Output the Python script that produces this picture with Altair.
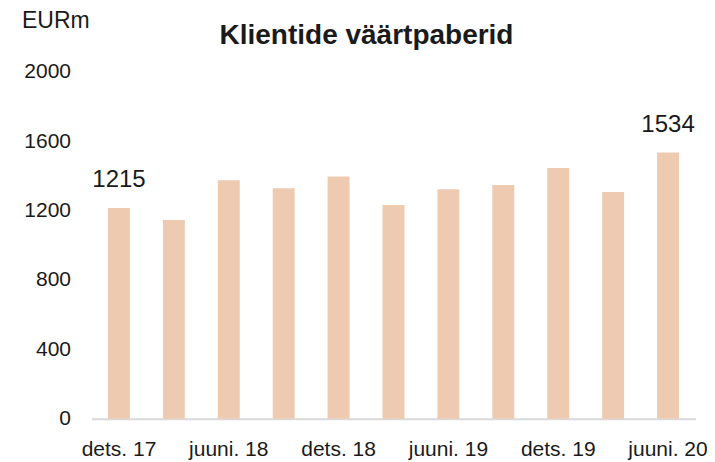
import altair as alt
import pandas as pd

periods = ["dets. 17", "märts 18", "juuni. 18", "sept. 18", "dets. 18", "märts 19",
           "juuni. 19", "sept. 19", "dets. 19", "märts 20", "juuni. 20"]
values = [1215, 1145, 1375, 1328, 1396, 1231, 1322, 1347, 1445, 1306, 1534]
shown_labels = ["1215", "", "", "", "", "", "", "", "", "", "1534"]
axis_ticks = ["dets. 17", "juuni. 18", "dets. 18", "juuni. 19", "dets. 19", "juuni. 20"]
y_ticks = [0, 400, 800, 1200, 1600, 2000]

df = pd.DataFrame({"period": periods, "value": values, "label": shown_labels})

FONT = "Liberation Sans"
TXT = "#1a1a1a"
BAR = "#EECAB1"

x = alt.X("period:N", sort=periods, title=None,
          scale=alt.Scale(paddingInner=0.6, paddingOuter=0.3),
          axis=alt.Axis(values=axis_ticks, labelAngle=0, ticks=False, tickSize=0,
                        labelPadding=20, labelFontSize=21, labelFont=FONT,
                        labelColor=TXT, domainColor="#d9d9d9", domainWidth=2,
                        grid=False, labelOverlap=False))
y = alt.Y("value:Q", title="EURm",
          scale=alt.Scale(domain=[0, 2000], nice=False),
          axis=alt.Axis(values=y_ticks, format="d", ticks=False, tickSize=0, domain=False,
                        grid=False, labelPadding=21, labelFontSize=21,
                        labelFont=FONT, labelColor=TXT,
                        titleAngle=0, titleAlign="left", titleBaseline="alphabetic",
                        titleX=-70, titleY=-44, titleFont=FONT, titleFontSize=23,
                        titleFontWeight="normal", titleColor=TXT))

bars = alt.Chart(df).mark_bar(color=BAR).encode(x=x, y=y)

labels = alt.Chart(df).transform_filter(alt.datum.label != "").mark_text(
    font=FONT, fontSize=24, color=TXT, baseline="alphabetic", dy=-21
).encode(x=alt.X("period:N", sort=periods), y="value:Q", text="label:N")

chart = alt.layer(bars, labels).properties(
    width=604, height=347,
    title=alt.TitleParams("Klientide väärtpaberid", font=FONT, fontSize=28,
                          fontWeight="bold", color=TXT, anchor="middle",
                          frame="group", dx=-27, dy=44),
    autosize=alt.AutoSizeParams(type="none"),
    padding={"left": 83.5, "top": 63.7, "right": 11.5, "bottom": 47},
).configure_view(stroke=None)

chart.save("out.html", embed_options={"renderer": "svg", "actions": False})
